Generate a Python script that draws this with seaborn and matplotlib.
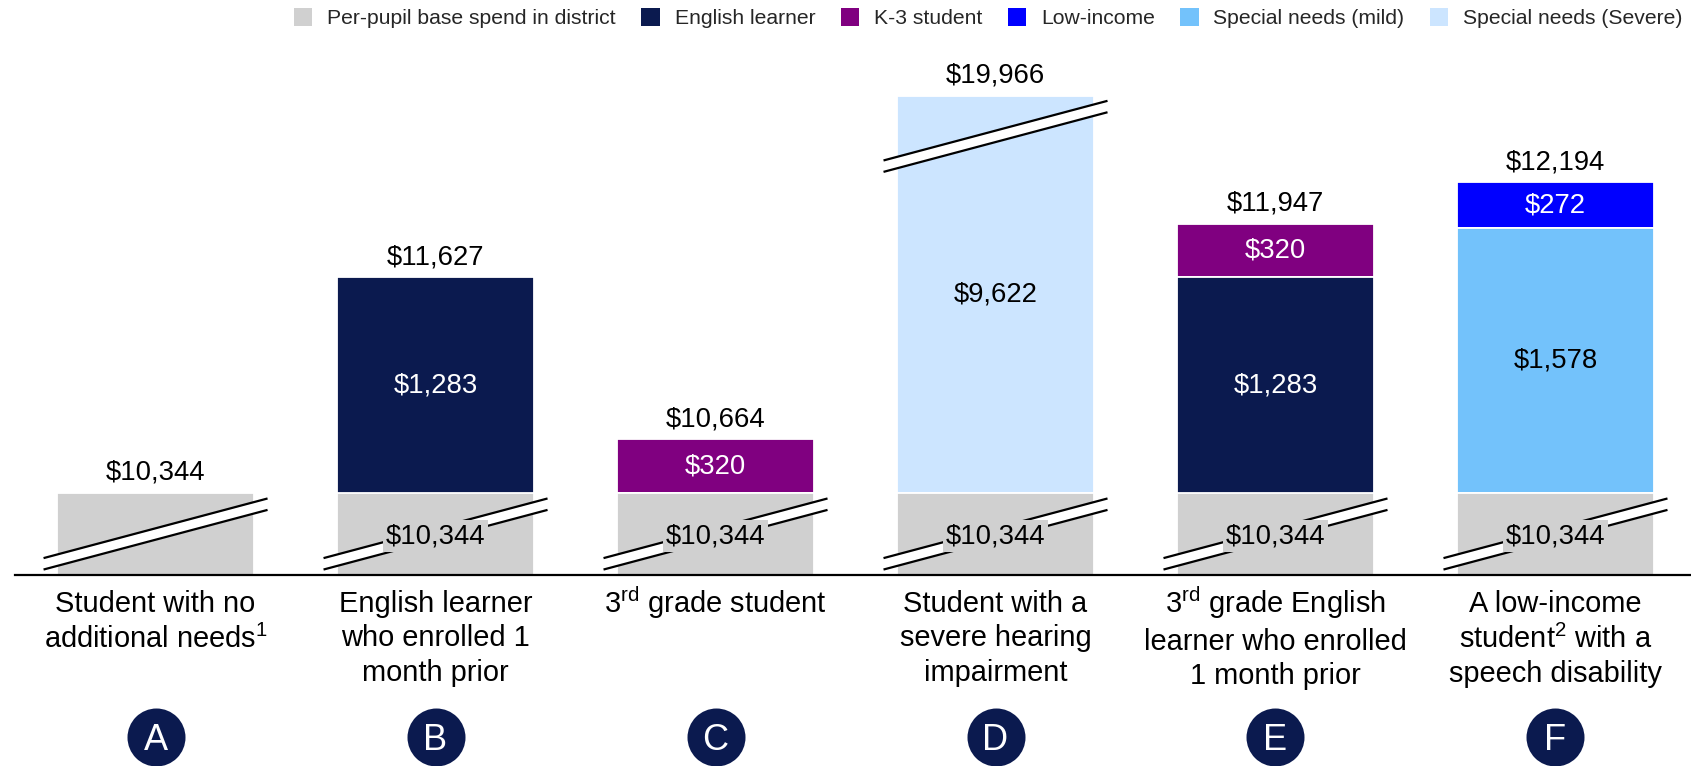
import matplotlib
matplotlib.use("Agg")
import matplotlib.pyplot as plt
import matplotlib.transforms as mtransforms
from matplotlib.patches import Patch
import numpy as np
import pandas as pd
import seaborn as sns

# ---- data ---------------------------------------------------------------
categories = ["A", "B", "C", "D", "E", "F"]
scenario_labels = [
    "Student with no\nadditional needs$^{1}$",
    "English learner\nwho enrolled 1\nmonth prior",
    "3$^{rd}$ grade student",
    "Student with a\nsevere hearing\nimpairment",
    "3$^{rd}$ grade English\nlearner who enrolled\n1 month prior",
    "A low-income\nstudent$^{2}$ with a\nspeech disability",
]
components = ["Per-pupil base spend in district", "English learner", "K-3 student",
              "Low-income", "Special needs (mild)", "Special needs (Severe)"]
base_spend = [10344, 10344, 10344, 10344, 10344, 10344]
english_learner = [0, 1283, 0, 0, 1283, 0]
k3_student = [0, 0, 320, 0, 320, 0]
low_income = [0, 0, 0, 0, 0, 272]
sped_mild = [0, 0, 0, 0, 0, 1578]
sped_severe = [0, 0, 0, 9622, 0, 0]

colors = {
    "Per-pupil base spend in district": "#D0D0D0",
    "English learner": "#0B1A4F",
    "K-3 student": "#800080",
    "Low-income": "#0000FF",
    "Special needs (mild)": "#73C2FB",
    "Special needs (Severe)": "#CCE5FF",
}
label_color = {"English learner": "white", "K-3 student": "white", "Low-income": "white",
               "Special needs (mild)": "black", "Special needs (Severe)": "black"}

# broken axis: base drawn short, severe segment truncated
BASE_DRAWN = 488
SEVERE_CAP = 2363
BREAK_RISE = 355
BREAK_GAP = 68

# stacking order bottom -> top
stack = [
    ("Per-pupil base spend in district", base_spend),
    ("English learner", english_learner),
    ("Special needs (mild)", sped_mild),
    ("Special needs (Severe)", sped_severe),
    ("K-3 student", k3_student),
    ("Low-income", low_income),
]

df = pd.DataFrame({"category": categories})
drawn_cols = []
for name, vals in stack:
    v = np.array(vals, dtype=float)
    if name == "Per-pupil base spend in district":
        drawn = np.full_like(v, BASE_DRAWN)
    elif name == "Special needs (Severe)":
        drawn = np.minimum(v, SEVERE_CAP)
    else:
        drawn = v
    df[name] = v
    df[name + "_drawn"] = drawn
    drawn_cols.append(name + "_drawn")
cum = df[drawn_cols].cumsum(axis=1)
totals = df[[n for n, _ in stack]].sum(axis=1)

# ---- figure -------------------------------------------------------------
sns.set_theme(style="white")
plt.rcParams["font.family"] = ["Liberation Sans", "DejaVu Sans"]
plt.rcParams["mathtext.fontset"] = "custom"
plt.rcParams["mathtext.rm"] = "Liberation Sans"
plt.rcParams["mathtext.default"] = "regular"

fig = plt.figure(figsize=(16.91, 7.66), dpi=100)
ax = fig.add_axes([15 / 1691, 191 / 766, 1 - 15 / 1691, 515 / 766])

BAR_W = 0.704
VAL_FS = 19.8
for i in range(len(stack) - 1, -1, -1):
    name = stack[i][0]
    tmp = pd.DataFrame({"category": categories, "top": cum.iloc[:, i].values})
    sns.barplot(data=tmp, x="category", y="top", order=categories, color=colors[name],
                width=BAR_W, edgecolor="white", linewidth=1.3, saturation=1, ax=ax)

ax.set_xlim(-0.502, 5.484)
ax.set_ylim(0, 515 / 0.168)
for s in ["top", "right", "left"]:
    ax.spines[s].set_visible(False)
ax.spines["bottom"].set_color("black")
ax.spines["bottom"].set_linewidth(1.6)
ax.spines["bottom"].set_zorder(6)
ax.set_xticks([])
ax.set_yticks([])
ax.set_xlabel("")
ax.set_ylabel("")


def draw_break(xc, ymid):
    xs = np.array([xc - 0.40, xc + 0.40])
    upper = ymid + BREAK_GAP / 2 + np.array([-BREAK_RISE / 2, BREAK_RISE / 2])
    lower = upper - BREAK_GAP
    ax.fill_between(xs, lower, upper, color="white", zorder=3, clip_on=False, linewidth=0)
    ax.plot(xs, upper, color="black", lw=1.6, zorder=4, clip_on=False, solid_capstyle="butt")
    ax.plot(xs, lower, color="black", lw=1.6, zorder=4, clip_on=False, solid_capstyle="butt")


for i, cat in enumerate(categories):
    draw_break(i, BASE_DRAWN / 2)
    top = cum.iloc[i, -1]
    # segment labels
    for j, (name, vals) in enumerate(stack):
        if j == 0 or vals[i] == 0:
            continue
        lo = cum.iloc[i, j - 1]
        hi = cum.iloc[i, j]
        ax.text(i, (lo + hi) / 2, f"${vals[i]:,}", ha="center", va="center",
                fontsize=VAL_FS, color=label_color[name], zorder=5)
        if name == "Special needs (Severe)" and vals[i] > SEVERE_CAP:
            draw_break(i, hi - 240)
    if top > BASE_DRAWN:
        ax.text(i, BASE_DRAWN / 2 - 12, f"${base_spend[i]:,}", ha="center", va="center",
                fontsize=VAL_FS, color="black", zorder=5,
                bbox=dict(boxstyle="square,pad=0.1", fc=colors[components[0]], ec="none"))
    ax.annotate(f"${totals[i]:,.0f}", xy=(i, top), xytext=(0, 14.5),
                textcoords="offset points", ha="center", va="center", fontsize=VAL_FS,
                color="black", annotation_clip=False)
    # superscript on the first line makes it taller; pull such labels up a bit
    first_line = scenario_labels[i].split("\n")[0]
    dy = -10.5 + (3.8 if "$" in first_line else 0)
    ax.annotate(scenario_labels[i], xy=(i, 0), xytext=(0, dy),
                textcoords="offset points", ha="center", va="top", fontsize=20.9,
                color="black", linespacing=1.3, annotation_clip=False)

# letter badges
trans = mtransforms.blended_transform_factory(ax.transData, ax.transAxes)
badge_y = -162 / 515
ax.scatter(range(len(categories)), [badge_y] * len(categories), s=(58 * 0.72) ** 2,
           color="#0B1A4F", transform=trans, clip_on=False, zorder=5, linewidths=0)
for i, cat in enumerate(categories):
    ax.text(i, badge_y, cat, transform=trans, ha="center", va="center_baseline",
            fontsize=26, color="white", zorder=6)

handles = [Patch(facecolor=colors[c], edgecolor="none", label=c) for c in components]
fig.legend(handles=handles, loc="upper right", bbox_to_anchor=(1.0, 1.0), ncol=6,
           frameon=False, fontsize=15.2, handlelength=0.88, handleheight=0.88,
           handletextpad=0.7, columnspacing=1.2, borderpad=0.3, borderaxespad=0.1)

fig.savefig("out.png", dpi=100)
